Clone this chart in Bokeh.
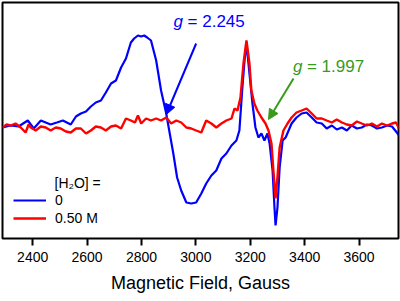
from bokeh.plotting import figure
from bokeh.models import Range1d, Label, Arrow, NormalHead, Legend, LegendItem, FixedTicker
from bokeh.embed import file_html
from bokeh.resources import INLINE

# Magnetic field (Gauss) and EPR signal (arb. units)
field_dry = [2289, 2319, 2348, 2382, 2404, 2430, 2466, 2489, 2511, 2540, 2559, 2577, 2596,
             2614, 2632, 2651, 2669, 2688, 2706, 2725, 2743, 2761, 2773, 2787, 2799, 2810,
             2821, 2835, 2854, 2872, 2891, 2902, 2917, 2931, 2946, 2965, 2983, 3001, 3020,
             3038, 3057, 3075, 3094, 3112, 3131, 3149, 3160, 3171, 3179, 3186, 3197, 3208,
             3219, 3230, 3241, 3252, 3263, 3271, 3282, 3289, 3293, 3300, 3308, 3319, 3330,
             3341, 3352, 3370, 3389, 3407, 3426, 3444, 3463, 3481, 3500, 3518, 3537, 3555,
             3573, 3592, 3610, 3629, 3647, 3666, 3684, 3703, 3721, 3739, 3747]
signal_dry = [-2, 0, -1, 5, -3, 5, 1, 3, 5, 1, 9, 12, 14,
              19, 23, 25, 33, 42, 45, 58, 67, 83, 87, 90, 89, 90,
              88, 85, 65, 35, 12, -5, -28, -52, -65, -77, -78, -77, -68,
              -58, -50, -45, -33, -28, -20, -15, -5, 38, 65, 82, 52, 22,
              -2, -12, -8, -15, -8, -18, -45, -82, -100, -82, -42, -15, -12,
              -5, 2, 8, 12, 13, 8, 3, 2, -3, 0, -4, -2, -5,
              0, -3, -2, 1, 0, -3, -2, 0, -1, -7, -10]

field_wet = [2289, 2304, 2319, 2337, 2356, 2374, 2385, 2393, 2411, 2430, 2448, 2466, 2485,
             2503, 2522, 2540, 2559, 2577, 2596, 2614, 2632, 2651, 2669, 2688, 2706, 2725,
             2743, 2761, 2776, 2787, 2799, 2817, 2835, 2854, 2872, 2891, 2909, 2928, 2946,
             2965, 2983, 3001, 3020, 3038, 3057, 3075, 3094, 3112, 3131, 3142, 3153, 3164,
             3175, 3186, 3197, 3204, 3215, 3226, 3241, 3256, 3267, 3278, 3285, 3293, 3300,
             3308, 3322, 3337, 3352, 3370, 3389, 3407, 3426, 3444, 3463, 3481, 3500, 3518,
             3537, 3555, 3573, 3592, 3610, 3629, 3647, 3666, 3684, 3703, 3721, 3736, 3747]
signal_wet = [-2, 1, 0, 2, -2, -7, 1, -2, -5, -1, -2, -5, -2,
              -3, -6, -7, -3, -3, -8, -5, -1, -2, -5, -1, 0, -3,
              7, 5, 3, 10, 2, 7, 5, 7, 5, 8, 2, 5, 3,
              -2, -3, -5, -7, 5, 2, -2, 2, 5, 7, 17, 15, 28,
              62, 85, 62, 35, 22, 15, 8, 2, -5, -18, -45, -73, -52,
              -22, -5, 2, 8, 13, 15, 17, 12, 7, 7, 5, 3, 6,
              3, 1, 0, 4, 2, 0, 2, -1, 2, 0, 2, 3, -3]

x_ticks = [2400, 2600, 2800, 3000, 3200, 3400, 3600]
series_labels = ["0", "0.50 M"]
legend_title = "[H\u2082O] ="
g_values = ["2.245", "1.997"]

FONT = "Liberation Sans"
BLUE = "#0000ff"
RED = "#ff0000"
GREEN = "#3a9a1c"

p = figure(width=400, height=301, output_backend="svg", toolbar_location=None,
           x_range=Range1d(2289, 3745), y_range=Range1d(-113, 123),
           min_border_left=2, min_border_right=2, min_border_top=2, min_border_bottom=63)
p.outline_line_color = "black"
p.outline_line_width = 2
p.xgrid.visible = False
p.ygrid.visible = False
p.yaxis.visible = False
p.background_fill_color = "white"
p.border_fill_color = "white"

ax = p.xaxis[0]
ax.ticker = FixedTicker(ticks=x_ticks)
ax.axis_line_color = None
ax.major_tick_in = 0
ax.major_tick_out = 7
ax.major_tick_line_width = 2
ax.major_tick_line_color = "black"
ax.minor_tick_line_color = None
ax.major_label_text_font = FONT
ax.major_label_text_font_size = "14px"
ax.major_label_text_color = "black"
ax.major_label_standoff = 6
ax.axis_label = "Magnetic Field, Gauss"
ax.axis_label_text_font = FONT
ax.axis_label_text_font_size = "18px"
ax.axis_label_text_font_style = "normal"
ax.axis_label_text_color = "black"
ax.axis_label_standoff = 8

r_dry = p.line(field_dry, signal_dry, line_color=BLUE, line_width=2.2)
r_wet = p.line(field_wet, signal_wet, line_color=RED, line_width=2.4)

legend = Legend(items=[LegendItem(label=series_labels[0], renderers=[r_dry]),
                       LegendItem(label=series_labels[1], renderers=[r_wet])],
                location=(11, 12), margin=0, padding=0, spacing=2,
                glyph_width=33, glyph_height=14, label_height=14, label_standoff=9,
                label_text_font=FONT, label_text_font_size="14px", label_text_color="black",
                border_line_alpha=0, background_fill_alpha=0)
p.add_layout(legend)

p.add_layout(Label(x=52, y=56, x_units="screen", y_units="screen", text=legend_title,
                   text_font=FONT, text_font_size="14px", text_color="black",
                   text_baseline="middle"))

# g-value annotations
def g_label(x, y, val, color):
    p.add_layout(Label(x=x, y=y, text="g", text_font=FONT, text_font_size="17px",
                       text_font_style="italic", text_color=color, text_baseline="middle"))
    p.add_layout(Label(x=x, y=y, x_offset=14, text="= " + val, text_font=FONT,
                       text_font_size="17px", text_color=color, text_baseline="middle"))

g_label(2918, 104, g_values[0], BLUE)
p.add_layout(Arrow(x_start=3001, y_start=82, x_end=2891, y_end=11,
                   line_color=BLUE, line_width=2,
                   end=NormalHead(size=10, fill_color=BLUE, line_color=BLUE)))

g_label(3357, 59, g_values[1], GREEN)
p.add_layout(Arrow(x_start=3359, y_start=47, x_end=3267, y_end=6,
                   line_color=GREEN, line_width=2,
                   end=NormalHead(size=10, fill_color=GREEN, line_color=GREEN)))

open("out.html", "w").write(file_html(p, INLINE))
